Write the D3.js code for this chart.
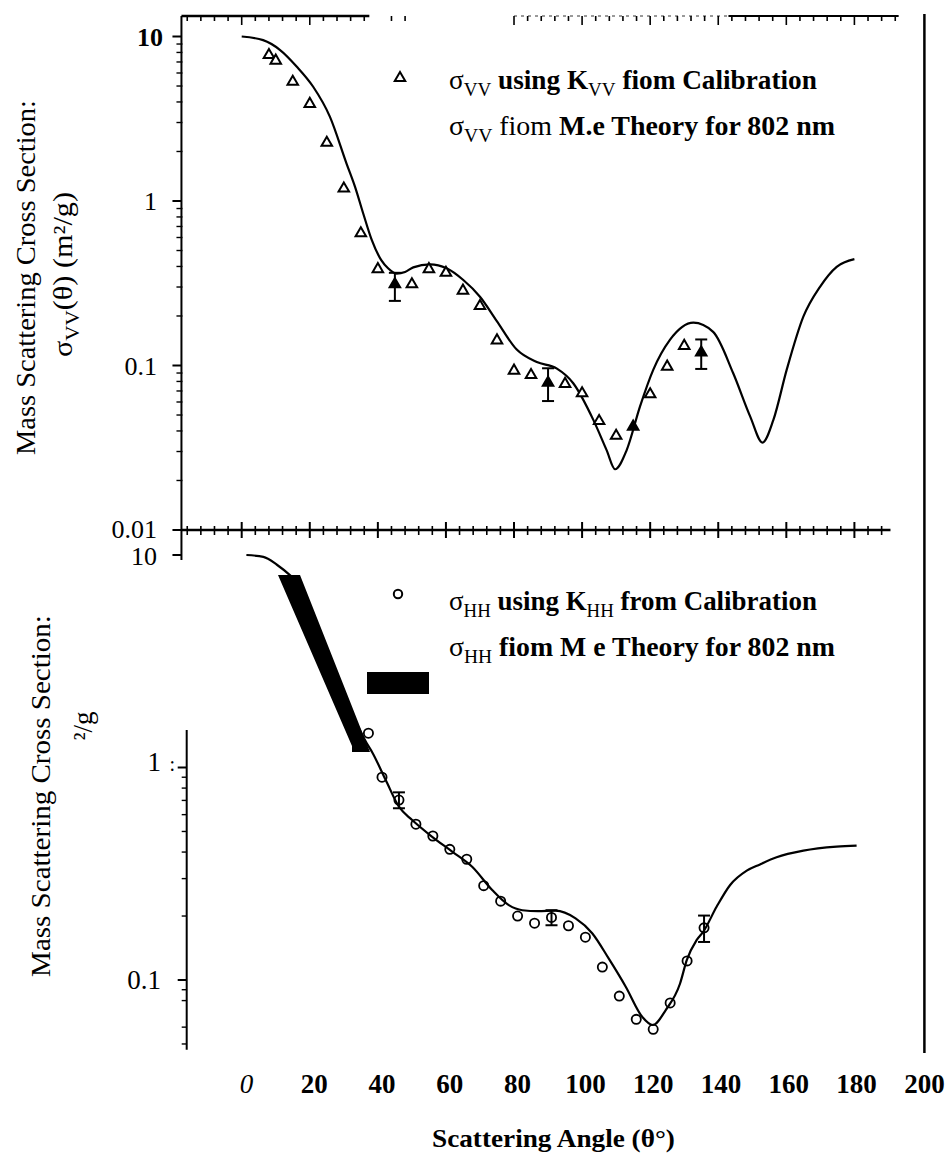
<!DOCTYPE html>
<html>
<head>
<meta charset="utf-8">
<script src="https://cdn.jsdelivr.net/npm/d3@7"></script>
<style>
  body { margin: 0; background: #fff; }
  svg { display: block; }
  text { font-family: "Liberation Serif", "Times New Roman", serif; fill: #000; }
</style>
</head>
<body>
<div id="chart"></div>
<script>
// ---- data ----
// upper panel: VV polarisation
const vvAngle = [8, 10, 15, 20, 25, 30, 35, 40, 45, 50, 55, 60, 65, 70, 75, 80, 85, 90, 95, 100, 105, 110, 115, 120, 125, 130, 135];
const vvValue = [7.72, 7.13, 5.31, 3.89, 2.26, 1.19, 0.636, 0.385, 0.312, 0.312, 0.385, 0.366, 0.285, 0.230, 0.142, 0.093, 0.0875, 0.0785, 0.0773, 0.0678, 0.046, 0.0374, 0.0425, 0.0668, 0.0984, 0.1315, 0.120];
const vvFilled = [45, 90, 115, 135];
const vvErrAngle = [45, 90, 135];
const vvErrLow = [0.247, 0.0608, 0.0953];
const vvErrHigh = [0.366, 0.0962, 0.144];
const vvTheoryAngle = [0, 6.3, 11.2, 16.2, 21, 25.9, 30.8, 33.3, 35.7, 38.2, 41, 43, 45.5, 48, 50.4, 55.3, 60.2, 65.1, 70, 74.9, 80.8, 86.7, 92.5, 97.4, 103.3, 107.2, 109.7, 113.1, 117, 120.9, 125.8, 132.7, 138.5, 144.4, 149.4, 153, 156.2, 160.1, 165, 169.9, 174.8, 180];
const vvTheoryValue = [10, 9.5, 8.3, 6.55, 4.95, 3.26, 1.69, 1.22, 0.84, 0.58, 0.437, 0.39, 0.362, 0.37, 0.395, 0.412, 0.39, 0.331, 0.262, 0.187, 0.125, 0.105, 0.096, 0.078, 0.0467, 0.0306, 0.0234, 0.0306, 0.0562, 0.094, 0.143, 0.182, 0.160, 0.0897, 0.0489, 0.034, 0.0467, 0.094, 0.198, 0.301, 0.398, 0.443];

// lower panel: HH polarisation
const hhAngle = [36, 40, 45, 50, 55, 60, 65, 70, 75, 80, 85, 90, 95, 100, 105, 110, 115, 120, 125, 130, 135];
const hhValue = [1.45, 0.90, 0.703, 0.541, 0.476, 0.412, 0.370, 0.278, 0.235, 0.200, 0.185, 0.197, 0.180, 0.159, 0.115, 0.084, 0.0653, 0.0586, 0.078, 0.123, 0.176];
const hhErrAngle = [45, 90, 135];
const hhErrLow = [0.643, 0.181, 0.151];
const hhErrHigh = [0.764, 0.213, 0.201];
const hhTheoryAngle = [0, 5, 9, 13, 16, 20, 25, 30, 33, 35.5, 37.1, 41.1, 45, 48.9, 54.8, 60.7, 66.6, 72.5, 77.4, 81.4, 86, 91.2, 97.1, 102, 106.9, 111.9, 116.8, 119.9, 123.7, 127.9, 129.9, 132.8, 134.8, 138.7, 142.7, 147.6, 151.5, 156.4, 164.3, 174.1, 180];
const hhTheoryValue = [10, 9.8, 9.0, 8.0, 7.2, 5.0, 3.2, 2.0, 1.55, 1.3, 1.18, 0.873, 0.654, 0.566, 0.472, 0.402, 0.341, 0.265, 0.225, 0.213, 0.211, 0.212, 0.195, 0.166, 0.126, 0.093, 0.067, 0.0614, 0.0722, 0.096, 0.124, 0.154, 0.169, 0.221, 0.280, 0.327, 0.350, 0.378, 0.406, 0.424, 0.429];

// ticks and labels
const xTickLabels = [0, 20, 40, 60, 80, 100, 120, 140, 160, 180, 200];
const topYTicks = [10, 1, 0.1, 0.01];
const topYLabels = ['10', '1', '0.1', '0.01'];
const botYMinor = [0.9, 0.8, 0.7, 0.6, 0.5, 0.4, 0.3, 0.2, 0.09, 0.08, 0.06, 0.05];

const width = 950, height = 1156;
const svg = d3.select('#chart').append('svg')
    .attr('width', width)
    .attr('height', height)
    .attr('viewBox', [0, 0, width, height]);

// scales
const xTop = d3.scaleLinear().domain([0, 180]).range([241.7, 854.4]);
const yTop = d3.scaleLog().domain([0.01, 10]).range([530, 36.5]);
const xBot = d3.scaleLinear().domain([0, 200]).range([246.4, 924.4]);
const yBot = d3.scaleLog().domain([0.1, 1]).range([980, 767.5]);

const leftX = xTop(-17.7);

// text helper: parts with bold / italic / sub, stretched to a given width
function placeText(x, y, rot, parts, opts) {
    const g = svg.append('g');
    const t = g.append('text')
        .attr('text-anchor', opts.anchor || 'start')
        .style('font-size', opts.size + 'px');
    let shift = 0;
    parts.forEach(p => {
        const ts = t.append('tspan').text(p.t);
        if (p.b) ts.style('font-weight', 'bold');
        if (p.i) ts.style('font-style', 'italic');
        const want = p.sub ? opts.size * 0.26 : 0;
        if (want !== shift) { ts.attr('dy', want - shift); shift = want; }
        if (p.sub) ts.style('font-size', (opts.size * 0.7) + 'px');
    });
    let k = 1;
    if (opts.width) k = opts.width / t.node().getComputedTextLength();
    g.attr('transform', `translate(${x},${y})${rot ? ` rotate(${rot})` : ''} scale(${k},1)`);
    return g;
}

// ---- frame lines ----
// left axis of the upper panel (runs down into the stub of the lower one)
svg.append('line')
    .attr('x1', leftX).attr('x2', leftX)
    .attr('y1', 16).attr('y2', yBot(10) + 5)
    .attr('stroke', 'black').attr('stroke-width', 2);

// right vertical line
svg.append('line')
    .attr('x1', xBot(200)).attr('x2', xBot(200))
    .attr('y1', 14).attr('y2', 1053)
    .attr('stroke', 'black').attr('stroke-width', 2.5);

// bottom axis of upper panel
svg.append('line')
    .attr('x1', leftX).attr('x2', xTop(190.6))
    .attr('y1', 530).attr('y2', 530)
    .attr('stroke', 'black').attr('stroke-width', 2.5);
const majorX = d3.range(0, 181, 20);
const minorX = d3.range(-16, 189, 4).filter(d => d % 20 !== 0);
svg.append('g').selectAll('line').data(majorX).join('line')
    .attr('x1', d => xTop(d)).attr('x2', d => xTop(d))
    .attr('y1', 522).attr('y2', 538)
    .attr('stroke', 'black').attr('stroke-width', 2);
svg.append('g').selectAll('line').data(minorX).join('line')
    .attr('x1', d => xTop(d)).attr('x2', d => xTop(d))
    .attr('y1', 526).attr('y2', 535)
    .attr('stroke', 'black').attr('stroke-width', 1.6);

// top axis (partly lost in the scan)
svg.append('line')
    .attr('x1', leftX).attr('x2', xTop(37.5))
    .attr('y1', 16).attr('y2', 16)
    .attr('stroke', 'black').attr('stroke-width', 2.5);
svg.append('line')
    .attr('x1', xTop(80)).attr('x2', xTop(143))
    .attr('y1', 16).attr('y2', 16)
    .attr('stroke', 'black').attr('stroke-width', 0.8).attr('stroke-dasharray', '3,4');
svg.append('line')
    .attr('x1', xTop(143)).attr('x2', xTop(193))
    .attr('y1', 16).attr('y2', 16)
    .attr('stroke', 'black').attr('stroke-width', 2);
const topTicks = d3.range(-16, 193, 4).filter(d => d <= 36 || d === 44 || d === 48 || d >= 80);
svg.append('g').selectAll('line').data(topTicks).join('line')
    .attr('x1', d => xTop(d)).attr('x2', d => xTop(d))
    .attr('y1', 16).attr('y2', d => d % 20 === 0 ? 25 : 21)
    .attr('stroke', 'black').attr('stroke-width', 1.6);

// left axis ticks of upper panel
svg.append('g').selectAll('line').data(topYTicks).join('line')
    .attr('x1', leftX - 9).attr('x2', leftX)
    .attr('y1', d => yTop(d)).attr('y2', d => yTop(d))
    .attr('stroke', 'black').attr('stroke-width', 2);
const topMinor = [0.01, 0.1, 1].flatMap(dec => d3.range(2, 10).map(m => m * dec));
svg.append('g').selectAll('line').data(topMinor).join('line')
    .attr('x1', leftX - 5).attr('x2', leftX + 1)
    .attr('y1', d => yTop(d)).attr('y2', d => yTop(d))
    .attr('stroke', 'black').attr('stroke-width', 1.4);

// upper panel y labels
svg.append('g').selectAll('text').data(topYTicks).join('text')
    .attr('x', (d, i) => i === 0 ? 163 : 157)
    .attr('y', (d, i) => yTop(d) - (i === 3 ? 1 : 0))
    .attr('dy', '0.35em')
    .attr('text-anchor', 'end')
    .style('font-size', '26px')
    .style('font-weight', (d, i) => i === 0 ? 'bold' : 'normal')
    .text((d, i) => topYLabels[i]);

// lower panel axis stub at 10
svg.append('line')
    .attr('x1', leftX - 9).attr('x2', leftX)
    .attr('y1', yBot(10)).attr('y2', yBot(10))
    .attr('stroke', 'black').attr('stroke-width', 2);
svg.append('text')
    .attr('x', 157).attr('y', yBot(10) + 1).attr('dy', '0.35em')
    .attr('text-anchor', 'end').style('font-size', '26px')
    .text('10');

// lower panel left axis (the surviving part)
const botAxisX = 186.7;
svg.append('line')
    .attr('x1', botAxisX).attr('x2', botAxisX)
    .attr('y1', yBot(1.5)).attr('y2', yBot(0.047))
    .attr('stroke', 'black').attr('stroke-width', 2);
svg.append('g').selectAll('line').data([1, 0.1]).join('line')
    .attr('x1', botAxisX - 9).attr('x2', botAxisX)
    .attr('y1', d => yBot(d)).attr('y2', d => yBot(d))
    .attr('stroke', 'black').attr('stroke-width', 2);
svg.append('g').selectAll('line').data(botYMinor).join('line')
    .attr('x1', botAxisX - 5).attr('x2', botAxisX)
    .attr('y1', d => yBot(d)).attr('y2', d => yBot(d))
    .attr('stroke', 'black').attr('stroke-width', 1.4);
svg.append('text')
    .attr('x', 161).attr('y', yBot(1) - 6).attr('dy', '0.35em')
    .attr('text-anchor', 'end').style('font-size', '27px')
    .text('1');
svg.append('text')
    .attr('x', 175).attr('y', yBot(1) - 4).attr('dy', '0.35em')
    .attr('text-anchor', 'end').style('font-size', '20px')
    .text(':');
svg.append('text')
    .attr('x', 161).attr('y', yBot(0.1)).attr('dy', '0.35em')
    .attr('text-anchor', 'end').style('font-size', '27px')
    .text('0.1');

// x tick labels (shared)
svg.append('g').selectAll('text').data(xTickLabels).join('text')
    .attr('x', d => xBot(d))
    .attr('y', 1093)
    .attr('text-anchor', 'middle')
    .style('font-size', '27px')
    .style('font-weight', d => d === 0 ? 'normal' : 'bold')
    .style('font-style', d => d === 0 ? 'italic' : 'normal')
    .text(d => d);

// axis titles
placeText(432, 1147, 0, [{ t: 'Scattering Angle (θ°)', b: true }], { size: 26, width: 243 });
placeText(35, 277.5, -90, [{ t: 'Mass Scattering Cross Section:' }], { size: 27, anchor: 'middle', width: 355 });
placeText(72, 274.5, -90, [{ t: 'σ' }, { t: 'VV', sub: true }, { t: '(θ)  (m²/g)' }], { size: 27, anchor: 'middle', width: 165 });
placeText(50, 796, -90, [{ t: 'Mass Scattering Cross Section:' }], { size: 27, anchor: 'middle', width: 362 });
placeText(92, 726, -90, [{ t: '²/g' }], { size: 27, anchor: 'middle' });

// ---- upper panel marks ----
const line = (xs, ys) => d3.line()
    .x(d => xs(d[0]))
    .y(d => ys(d[1]))
    .curve(d3.curveMonotoneX);

svg.append('path')
    .datum(vvTheoryAngle.map((a, i) => [a, vvTheoryValue[i]]))
    .attr('d', line(xTop, yTop))
    .attr('fill', 'none').attr('stroke', 'black').attr('stroke-width', 2.2);

// error bars
const errGroup = (xs, ys, ang, lo, hi) => {
    const g = svg.append('g').attr('stroke', 'black').attr('stroke-width', 2);
    ang.forEach((a, i) => {
        const x = xs(a);
        g.append('line').attr('x1', x).attr('x2', x).attr('y1', ys(lo[i])).attr('y2', ys(hi[i]));
        g.append('line').attr('x1', x - 6).attr('x2', x + 6).attr('y1', ys(lo[i])).attr('y2', ys(lo[i]));
        g.append('line').attr('x1', x - 6).attr('x2', x + 6).attr('y1', ys(hi[i])).attr('y2', ys(hi[i]));
    });
};
errGroup(xTop, yTop, vvErrAngle, vvErrLow, vvErrHigh);

const tri = d3.symbol(d3.symbolTriangle, 48);
svg.append('g').selectAll('path')
    .data(vvAngle.map((a, i) => [a, vvValue[i]]))
    .join('path')
    .attr('d', tri)
    .attr('transform', d => `translate(${xTop(d[0])},${yTop(d[1])})`)
    .attr('fill', d => vvFilled.includes(d[0]) ? 'black' : 'white')
    .attr('stroke', 'black').attr('stroke-width', 2);

// ---- lower panel marks ----
svg.append('path')
    .datum(hhTheoryAngle.map((a, i) => [a, hhTheoryValue[i]]))
    .attr('d', line(xBot, yBot))
    .attr('fill', 'none').attr('stroke', 'black').attr('stroke-width', 2.2);

errGroup(xBot, yBot, hhErrAngle, hhErrLow, hhErrHigh);

svg.append('g').selectAll('circle')
    .data(hhAngle.map((a, i) => [a, hhValue[i]]))
    .join('circle')
    .attr('cx', d => xBot(d[0]))
    .attr('cy', d => yBot(d[1]))
    .attr('r', 4.6)
    .attr('fill', 'none')
    .attr('stroke', 'black').attr('stroke-width', 1.8);

// ---- legends ----
svg.append('path')
    .attr('d', tri)
    .attr('transform', 'translate(400,78)')
    .attr('fill', 'white').attr('stroke', 'black').attr('stroke-width', 2);
placeText(449, 89, 0, [{ t: 'σ' }, { t: 'VV', sub: true }, { t: ' using K', b: true }, { t: 'VV', sub: true }, { t: ' fiom Calibration', b: true }], { size: 27, width: 368 });
placeText(449, 135, 0, [{ t: 'σ' }, { t: 'VV', sub: true }, { t: ' fiom ' }, { t: 'M.e Theory for 802 nm', b: true }], { size: 27, width: 386 });

svg.append('circle')
    .attr('cx', 398).attr('cy', 594).attr('r', 4.2)
    .attr('fill', 'white').attr('stroke', 'black').attr('stroke-width', 2);
placeText(449, 610, 0, [{ t: 'σ' }, { t: 'HH', sub: true }, { t: ' using K', b: true }, { t: 'HH', sub: true }, { t: ' from Calibration', b: true }], { size: 27, width: 368 });
placeText(449, 656, 0, [{ t: 'σ' }, { t: 'HH', sub: true }, { t: ' fiom M e Theory for 802 nm', b: true }], { size: 27, width: 386 });

// ---- black blotches from the scan ----
svg.append('polygon')
    .attr('points', '278,575 300,575 370,752 352,752 352,746')
    .attr('fill', 'black');
svg.append('rect')
    .attr('x', 367).attr('y', 672).attr('width', 62).attr('height', 22)
    .attr('fill', 'black');
</script>
</body>
</html>
